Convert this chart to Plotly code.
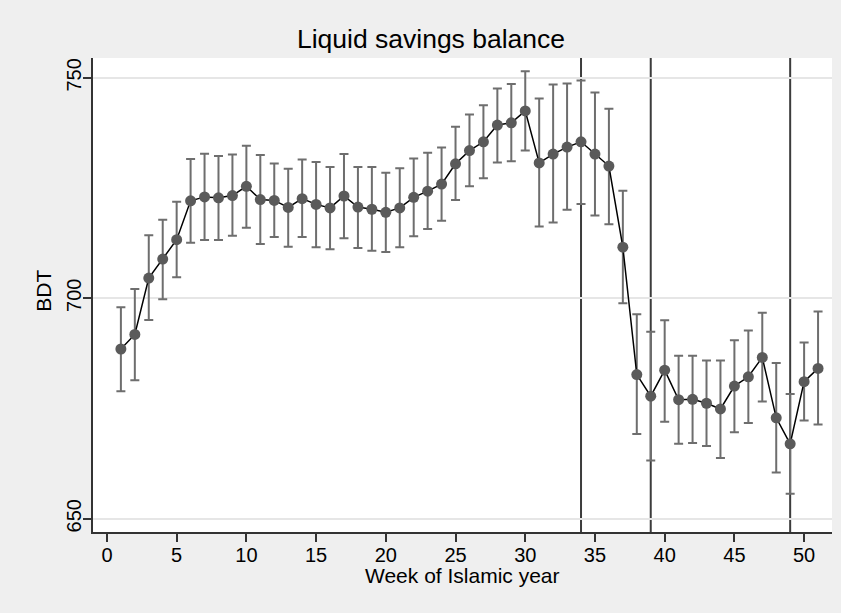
import plotly.graph_objects as go

# Weekly liquid savings balance (BDT) with 95% confidence bounds
weeks = list(range(1, 52))
balance = [688.5, 691.8, 704.6, 708.9, 713.3, 722.1, 723.0, 722.8, 723.3, 725.4,
           722.4, 722.2, 720.6, 722.6, 721.3, 720.5, 723.2, 720.7, 720.2, 719.5,
           720.5, 722.9, 724.3, 725.9, 730.5, 733.5, 735.5, 739.3, 739.8, 742.5,
           730.7, 732.7, 734.3, 735.5, 732.7, 730.0, 711.6, 682.7, 677.8, 683.7,
           677.0, 677.1, 676.2, 674.9, 680.1, 682.2, 686.6, 672.9, 667.0, 681.1,
           684.1]
upper = [698.0, 702.1, 714.3, 717.8, 721.9, 731.6, 732.8, 732.3, 732.6, 734.6,
         732.5, 730.6, 729.4, 731.5, 730.9, 729.8, 732.7, 729.8, 729.8, 728.5,
         729.5, 731.7, 733.0, 734.2, 738.9, 741.7, 743.8, 747.6, 748.6, 751.5,
         745.3, 748.5, 748.7, 749.4, 746.7, 743.0, 724.4, 696.4, 692.4, 695.0,
         687.0, 687.0, 685.9, 685.9, 690.5, 692.7, 696.7, 685.3, 678.3, 690.0,
         697.0]
lower = [678.9, 681.4, 695.1, 699.8, 704.8, 712.6, 713.2, 713.2, 714.2, 716.0,
         712.3, 713.9, 711.7, 713.9, 711.6, 711.1, 713.6, 711.4, 710.8, 710.5,
         711.6, 714.1, 715.7, 717.6, 722.3, 725.4, 727.2, 730.8, 731.1, 733.5,
         716.3, 717.2, 720.1, 721.4, 718.8, 716.8, 698.9, 669.2, 663.2, 672.0,
         667.0, 667.2, 666.5, 663.8, 669.6, 671.7, 676.6, 660.5, 655.7, 672.3,
         671.4]
event_weeks = [34, 39, 49]
x_ticks = [0, 5, 10, 15, 20, 25, 30, 35, 40, 45, 50]
y_ticks = [650, 700, 750]

FONT = "Liberation Sans, Arial, Helvetica, sans-serif"

# plot-area edges in pixels (for placing the axis titles)
PL, PR, PT, PB = 93, 832, 58.3, 532.3

err_plus = [u - m for u, m in zip(upper, balance)]
err_minus = [m - l for m, l in zip(balance, lower)]

fig = go.Figure()
fig.add_trace(go.Scatter(
    x=weeks, y=balance, mode="lines+markers",
    line=dict(color="#000000", width=1.5),
    marker=dict(color="#5a5a5a", size=11),
    error_y=dict(type="data", symmetric=False, array=err_plus,
                 arrayminus=err_minus, color="#6e6e6e", thickness=2, width=4.5),
    showlegend=False,
))

for w in event_weeks:
    fig.add_shape(type="line", x0=w, x1=w, y0=0, y1=1, xref="x", yref="paper",
                  line=dict(color="#3c3c3c", width=2), layer="below")

fig.update_layout(
    width=841, height=613,
    margin=dict(l=PL, r=841 - PR, t=PT, b=613 - PB),
    paper_bgcolor="#efefef", plot_bgcolor="#ffffff",
    font=dict(family=FONT, color="#000000"),
    title=dict(text="Liquid savings balance", font=dict(size=26.5, family=FONT),
               x=431 / 841, xref="container", xanchor="center",
               y=1 - 39 / 613, yref="container", yanchor="middle"),
    xaxis=dict(range=[-1, 52], tickvals=x_ticks, showgrid=False, zeroline=False,
               showline=True, linecolor="#333333", linewidth=1.5,
               ticks="outside", ticklen=8, tickwidth=1.5, tickcolor="#333333",
               tickfont=dict(size=20), ticklabelstandoff=-4),
    yaxis=dict(range=[647, 754.5], tickvals=y_ticks, showgrid=True,
               gridcolor="#e6e6e6", gridwidth=1.5, zeroline=False,
               showline=True, linecolor="#333333", linewidth=1.5,
               ticks="outside", ticklen=8, tickwidth=1.5, tickcolor="#333333",
               tickangle=-90, tickfont=dict(size=20), ticklabelstandoff=-6),
)

fig.add_annotation(text="Week of Islamic year", showarrow=False,
                   xref="paper", yref="paper",
                   x=(462 - PL) / (PR - PL), y=(PB - 576) / (PB - PT),
                   xanchor="center", yanchor="middle",
                   font=dict(size=21, family=FONT))
fig.add_annotation(text="BDT", textangle=-90, showarrow=False,
                   xref="paper", yref="paper",
                   x=(44 - PL) / (PR - PL), y=(PB - 291) / (PB - PT),
                   xanchor="center", yanchor="middle",
                   font=dict(size=21, family=FONT))

fig.write_html("out.html")
